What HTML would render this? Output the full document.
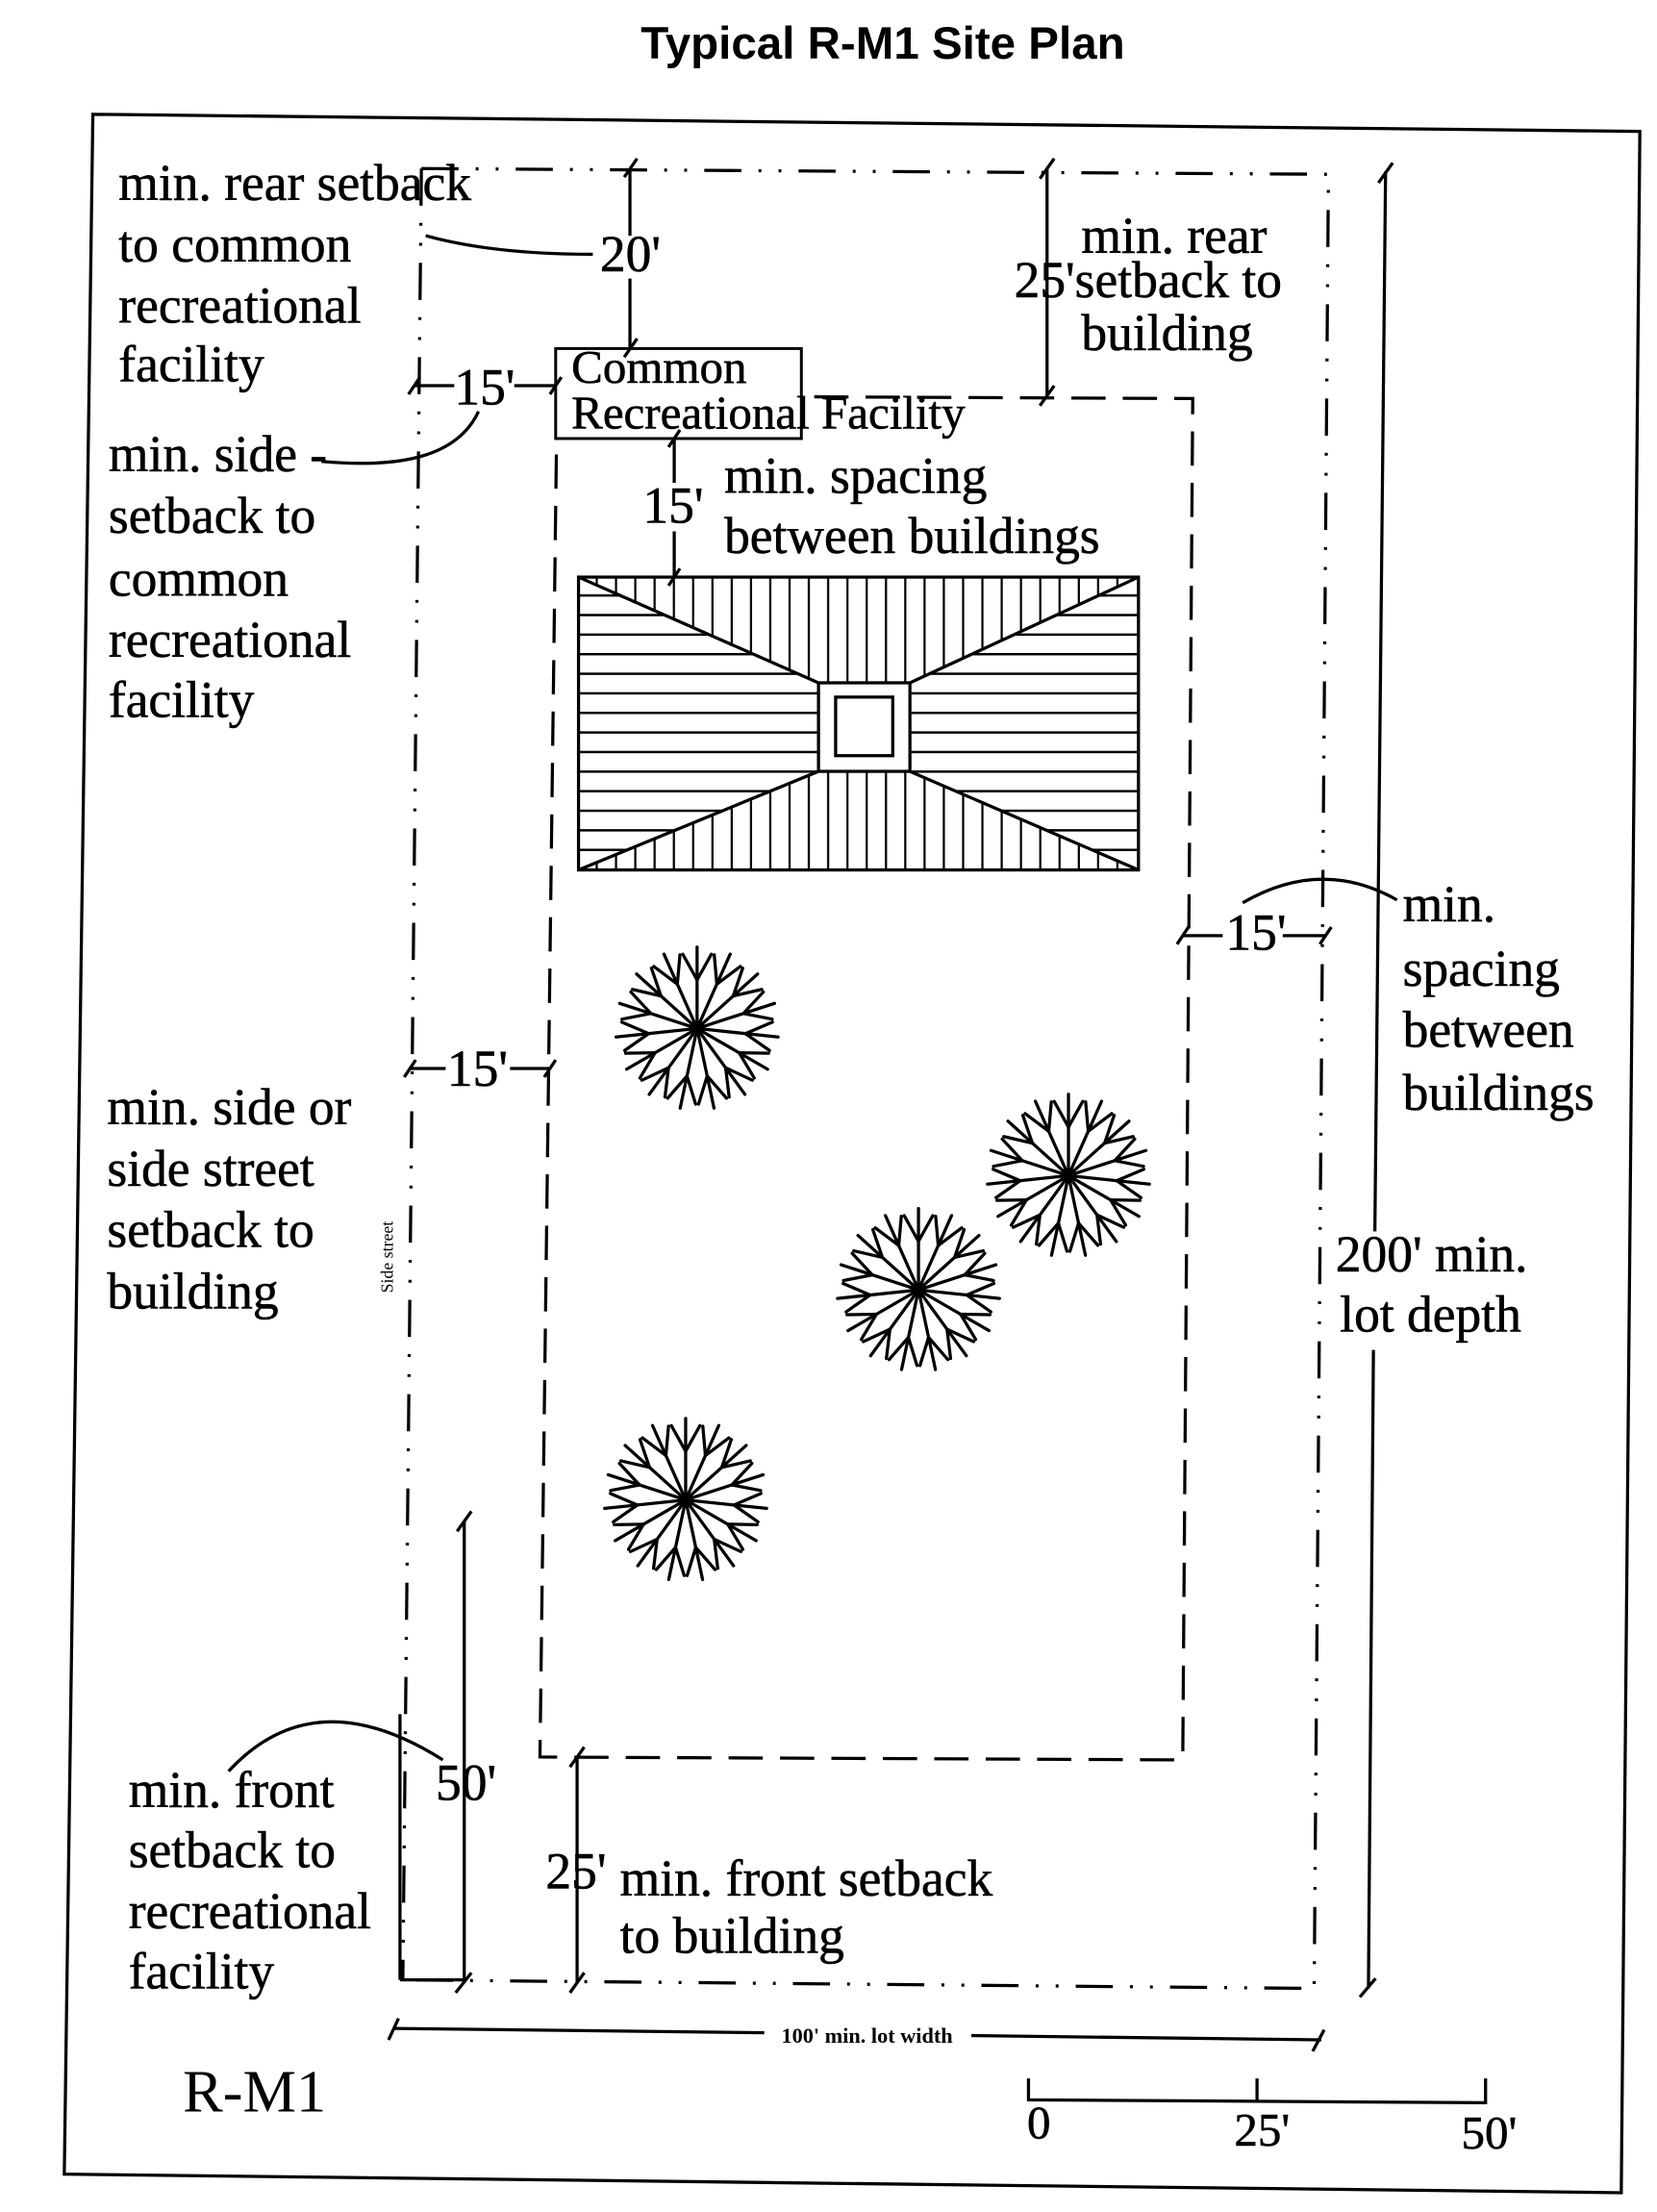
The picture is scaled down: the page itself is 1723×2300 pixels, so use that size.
<!DOCTYPE html>
<html><head><meta charset="utf-8"><style>
html,body{margin:0;padding:0;background:#fff;}
svg{display:block;}
.t{font-family:"Liberation Serif",serif;font-size:36px;fill:#000;stroke:#000;stroke-width:0.4;}
.s{font-family:"Liberation Serif",serif;font-size:33px;fill:#000;stroke:#000;stroke-width:0.4;}
</style></head><body>
<svg width="1723" height="2300" viewBox="0 0 1160 1548.5" xmlns="http://www.w3.org/2000/svg">
<defs>
<pattern id="pv" width="13.5" height="20" patternUnits="userSpaceOnUse" x="405"><line x1="13" y1="0" x2="13" y2="20" stroke="#000" stroke-width="2"/></pattern>
<pattern id="ph" width="20" height="13.7" patternUnits="userSpaceOnUse" y="404"><line x1="0" y1="13" x2="20" y2="13" stroke="#000" stroke-width="2"/></pattern>
<g id="tree" stroke="#000" stroke-width="2.2" fill="none" stroke-linecap="round">
<g id="sp"><line x1="0" y1="0" x2="0" y2="-57"/><line x1="0" y1="-34" x2="-10" y2="-52"/><line x1="0" y1="-34" x2="10" y2="-52"/></g>
<use href="#sp" transform="rotate(24)"/><use href="#sp" transform="rotate(48)"/><use href="#sp" transform="rotate(72)"/><use href="#sp" transform="rotate(96)"/><use href="#sp" transform="rotate(120)"/><use href="#sp" transform="rotate(144)"/><use href="#sp" transform="rotate(168)"/><use href="#sp" transform="rotate(192)"/><use href="#sp" transform="rotate(216)"/><use href="#sp" transform="rotate(240)"/><use href="#sp" transform="rotate(264)"/><use href="#sp" transform="rotate(288)"/><use href="#sp" transform="rotate(312)"/><use href="#sp" transform="rotate(336)"/>
<circle cx="0" cy="0" r="4" fill="#000"/>
</g>
</defs>

<text x="618" y="41" text-anchor="middle" font-family="Liberation Sans,sans-serif" font-weight="bold" font-size="32">Typical R-M1 Site Plan</text>

<polygon points="65,80 1148,92 1135,1535 45,1522" fill="none" stroke="#000" stroke-width="2.2"/>

<g fill="none" stroke="#000" stroke-width="2.2" stroke-dasharray="26,12,2,12,2,12">
<polyline points="295,118 930,122 920,1392 280,1386"/>
<polyline points="295,118 282,1386"/>
</g>
<line x1="280" y1="1200" x2="280" y2="1386" stroke="#000" stroke-width="2.2"/>
<line x1="280" y1="1386" x2="325" y2="1386" stroke="#000" stroke-width="2.2"/>

<polygon points="390,277 835,279 828,1232 378,1230" fill="none" stroke="#000" stroke-width="2.2" stroke-dasharray="24,12"/>

<rect x="389" y="244" width="172" height="63" fill="#fff" stroke="#000" stroke-width="2"/>

<polygon points="405,404 797,404 637,478 573,478" fill="url(#pv)"/>
<polygon points="405,609 797,609 637,540 573,540" fill="url(#pv)"/>
<polygon points="405,404 573,478 573,540 405,609" fill="url(#ph)"/>
<polygon points="797,404 637,478 637,540 797,609" fill="url(#ph)"/>
<g fill="none" stroke="#000" stroke-width="2.2">
<rect x="405" y="404" width="392" height="205"/>
<line x1="405" y1="404" x2="573" y2="478"/><line x1="797" y1="404" x2="637" y2="478"/>
<line x1="405" y1="609" x2="573" y2="540"/><line x1="797" y1="609" x2="637" y2="540"/>
<rect x="573" y="478" width="64" height="62" fill="#fff"/>
<rect x="585" y="488" width="40" height="41"/>
</g>

<use href="#tree" transform="translate(488,720)"/>
<use href="#tree" transform="translate(748,823)"/>
<use href="#tree" transform="translate(643,903)"/>
<use href="#tree" transform="translate(480,1050)"/>

<g stroke="#000" stroke-width="2.2" fill="none">
<line x1="441" y1="118" x2="441" y2="165"/><line x1="441" y1="195" x2="441" y2="244"/>
<line x1="437" y1="124" x2="446" y2="111"/><line x1="437" y1="250" x2="446" y2="237"/>
<line x1="733" y1="118" x2="733" y2="277"/>
<line x1="728" y1="125" x2="738" y2="111"/><line x1="728" y1="284" x2="738" y2="270"/>
<line x1="290" y1="270" x2="318" y2="270"/><line x1="360" y1="270" x2="389" y2="270"/>
<line x1="286" y1="276" x2="294" y2="264"/><line x1="385" y1="276" x2="393" y2="264"/>
<line x1="472" y1="307" x2="472" y2="338"/><line x1="472" y1="372" x2="472" y2="404"/>
<line x1="468" y1="313" x2="476" y2="301"/><line x1="468" y1="410" x2="476" y2="398"/>
<line x1="828" y1="655" x2="856" y2="655"/><line x1="898" y1="655" x2="928" y2="655"/>
<line x1="824" y1="661" x2="832" y2="649"/><line x1="924" y1="661" x2="932" y2="649"/>
<line x1="287" y1="748" x2="312" y2="748"/><line x1="357" y1="748" x2="385" y2="748"/>
<line x1="283" y1="754" x2="291" y2="742"/><line x1="381" y1="754" x2="389" y2="742"/>
<line x1="970" y1="120" x2="962.5" y2="862"/><line x1="961.5" y1="945" x2="958" y2="1392"/>
<line x1="965" y1="128" x2="975" y2="114"/><line x1="952" y1="1398" x2="963" y2="1385"/>
<line x1="275" y1="1420" x2="535" y2="1423"/><line x1="680" y1="1425" x2="925" y2="1428"/>
<line x1="272" y1="1428" x2="279" y2="1413"/><line x1="919" y1="1436" x2="927" y2="1421"/>
<line x1="325" y1="1065" x2="325" y2="1388"/>
<line x1="320" y1="1072" x2="330" y2="1058"/><line x1="319" y1="1395" x2="330" y2="1381"/>
<line x1="404" y1="1230" x2="404" y2="1388"/>
<line x1="399" y1="1237" x2="409" y2="1223"/><line x1="399" y1="1395" x2="409" y2="1381"/>
<path d="M298,165 Q345,178 415,178"/>
<path d="M225,323 C280,328 320,320 335,288"/>
<path d="M870,632 Q925,600 978,630"/>
<path d="M160,1240 Q220,1175 310,1232"/>
<polyline points="720,1455 720,1470 1040,1472 1040,1455"/>
<line x1="880" y1="1455" x2="880" y2="1471"/>
</g>

<text class="t" x="83" y="140">min. rear setback</text>
<text class="t" x="83" y="183">to common</text>
<text class="t" x="83" y="226">recreational</text>
<text class="t" x="83" y="267">facility</text>
<text class="t" x="420" y="190">20'</text>
<text class="t" x="757" y="177">min. rear</text>
<text class="t" x="710" y="208">25'setback to</text>
<text class="t" x="757" y="245">building</text>
<text class="s" x="400" y="268">Common</text>
<text class="s" x="400" y="300">Recreational Facility</text>
<text class="t" x="318" y="283">15'</text>
<text class="t" x="76" y="330">min. side -</text>
<text class="t" x="76" y="373">setback to</text>
<text class="t" x="76" y="417">common</text>
<text class="t" x="76" y="460">recreational</text>
<text class="t" x="76" y="502">facility</text>
<text class="t" x="450" y="366">15'</text>
<text class="t" x="507" y="345">min. spacing</text>
<text class="t" x="507" y="387">between buildings</text>
<text class="t" x="858" y="665">15'</text>
<text class="t" x="982" y="645">min.</text>
<text class="t" x="982" y="690">spacing</text>
<text class="t" x="982" y="733">between</text>
<text class="t" x="982" y="777">buildings</text>
<text class="t" x="313" y="760">15'</text>
<text class="t" x="75" y="787">min. side or</text>
<text class="t" x="75" y="830">side street</text>
<text class="t" x="75" y="873">setback to</text>
<text class="t" x="75" y="916">building</text>
<text x="275" y="880" transform="rotate(-90 275 880)" text-anchor="middle" font-family="Liberation Serif,serif" font-size="12">Side street</text>
<text class="t" x="935" y="890">200' min.</text>
<text class="t" x="938" y="932">lot depth</text>
<text class="t" x="90" y="1265">min. front</text>
<text class="t" x="90" y="1307">setback to</text>
<text class="t" x="90" y="1350">recreational</text>
<text class="t" x="90" y="1392">facility</text>
<text class="t" x="305" y="1260">50'</text>
<text class="t" x="382" y="1322">25'</text>
<text class="t" x="434" y="1327">min. front setback</text>
<text class="t" x="434" y="1367">to building</text>
<text x="607" y="1430" text-anchor="middle" font-family="Liberation Serif,serif" font-size="15" font-weight="bold">100' min. lot width</text>
<text x="128" y="1478" font-family="Liberation Serif,serif" font-size="42">R-M1</text>
<text class="s" x="719" y="1497">0</text>
<text class="s" x="864" y="1502">25'</text>
<text class="s" x="1023" y="1504">50'</text>
</svg>
</body></html>
